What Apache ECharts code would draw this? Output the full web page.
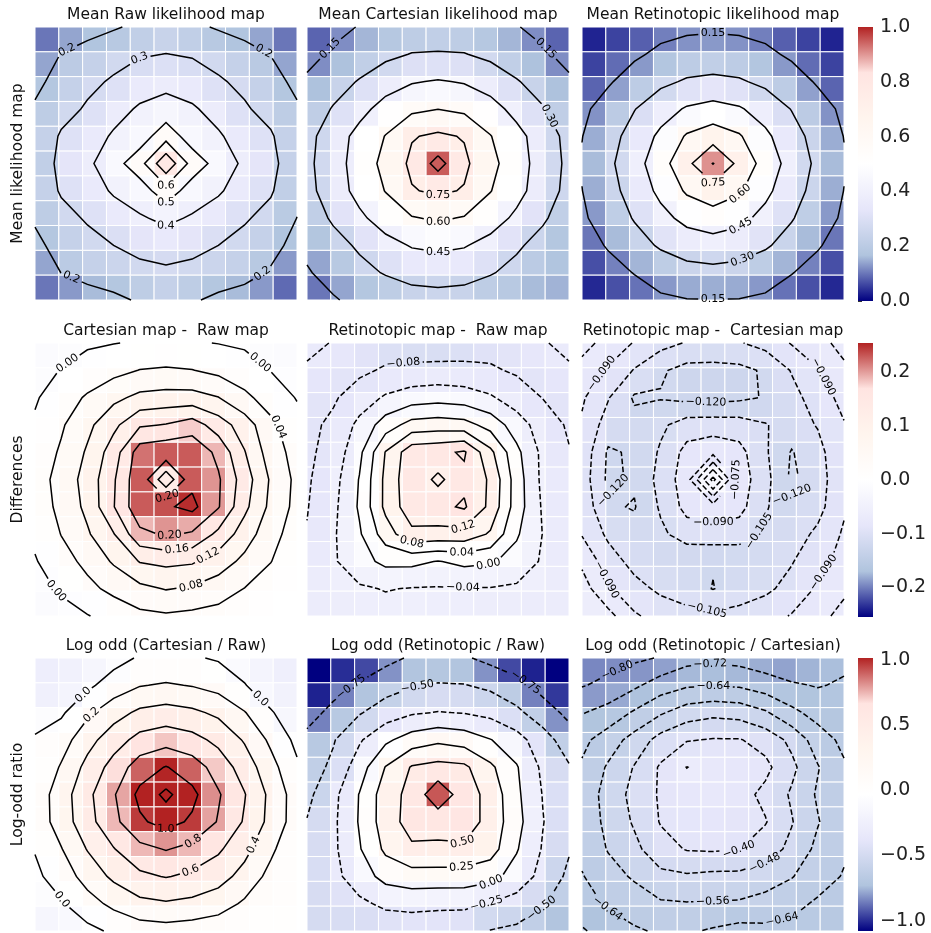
<!DOCTYPE html>
<html>
<head>
<meta charset="utf-8">
<title>Likelihood maps</title>
<script src="https://cdn.jsdelivr.net/npm/echarts@6/dist/echarts.min.js"></script>
<style>
html,body{margin:0;padding:0;background:#ffffff;}
#chart{width:931px;height:933px;}
</style>
</head>
<body>
<div id="chart"></div>
<script>
// ---------------- data (11 x 11 maps, row 0 = top) ----------------
const rawMean = [
 [0.10,0.14,0.17,0.19,0.22,0.24,0.22,0.19,0.17,0.14,0.10],
 [0.14,0.203,0.23,0.27,0.29,0.302,0.29,0.27,0.23,0.198,0.14],
 [0.18,0.23,0.28,0.31,0.36,0.37,0.36,0.31,0.28,0.23,0.18],
 [0.21,0.27,0.31,0.37,0.41,0.44,0.41,0.37,0.31,0.27,0.21],
 [0.23,0.31,0.36,0.41,0.45,0.56,0.45,0.41,0.36,0.31,0.23],
 [0.22,0.33,0.38,0.46,0.56,0.78,0.56,0.46,0.38,0.33,0.23],
 [0.23,0.31,0.36,0.41,0.45,0.56,0.45,0.41,0.36,0.31,0.22],
 [0.21,0.27,0.31,0.36,0.39,0.42,0.39,0.36,0.31,0.27,0.199],
 [0.18,0.23,0.27,0.30,0.33,0.35,0.33,0.30,0.27,0.23,0.17],
 [0.14,0.201,0.23,0.25,0.27,0.28,0.27,0.25,0.23,0.19,0.13],
 [0.10,0.13,0.16,0.18,0.21,0.23,0.21,0.18,0.16,0.13,0.09]
];
const cartesianMean = [
 [0.085,0.12,0.155,0.185,0.21,0.22,0.21,0.185,0.155,0.12,0.085],
 [0.12,0.165,0.22,0.27,0.305,0.31,0.305,0.27,0.22,0.165,0.12],
 [0.165,0.24,0.31,0.38,0.44,0.46,0.44,0.38,0.31,0.24,0.165],
 [0.215,0.31,0.40,0.51,0.57,0.598,0.57,0.51,0.40,0.31,0.215],
 [0.26,0.37,0.50,0.605,0.74,0.775,0.74,0.605,0.50,0.37,0.26],
 [0.27,0.38,0.52,0.64,0.78,0.95,0.78,0.64,0.52,0.38,0.27],
 [0.26,0.37,0.50,0.605,0.74,0.775,0.74,0.605,0.50,0.37,0.26],
 [0.22,0.32,0.42,0.52,0.59,0.62,0.59,0.52,0.42,0.32,0.22],
 [0.175,0.25,0.32,0.40,0.46,0.48,0.46,0.40,0.32,0.25,0.18],
 [0.14,0.19,0.26,0.31,0.35,0.36,0.35,0.31,0.26,0.20,0.17],
 [0.10,0.14,0.18,0.21,0.24,0.25,0.24,0.21,0.19,0.16,0.152]
];
const retinotopicMean = [
 [0.03,0.057,0.081,0.108,0.124,0.13,0.124,0.108,0.081,0.057,0.03],
 [0.057,0.092,0.13,0.177,0.208,0.219,0.208,0.177,0.13,0.092,0.057],
 [0.085,0.136,0.207,0.27,0.315,0.33,0.315,0.27,0.207,0.136,0.085],
 [0.124,0.203,0.295,0.386,0.465,0.50,0.465,0.386,0.295,0.203,0.124],
 [0.147,0.247,0.355,0.48,0.615,0.68,0.615,0.48,0.355,0.247,0.147],
 [0.16,0.27,0.39,0.54,0.71,0.905,0.71,0.54,0.39,0.27,0.16],
 [0.148,0.249,0.359,0.485,0.62,0.69,0.62,0.485,0.359,0.249,0.148],
 [0.13,0.214,0.31,0.407,0.49,0.53,0.49,0.407,0.31,0.214,0.13],
 [0.10,0.16,0.244,0.317,0.37,0.39,0.37,0.317,0.244,0.16,0.10],
 [0.067,0.11,0.154,0.21,0.247,0.26,0.247,0.21,0.154,0.11,0.067],
 [0.034,0.068,0.097,0.129,0.145,0.148,0.145,0.129,0.097,0.068,0.034]
];
const diffCartesianRaw = [
 [-0.015,-0.01,-0.005,-0.001,0.003,0.005,0.003,-0.001,-0.005,-0.01,-0.015],
 [-0.01,0.001,0.015,0.028,0.041,0.045,0.041,0.03,0.015,-0.001,-0.008],
 [-0.004,0.02,0.045,0.07,0.09,0.095,0.095,0.081,0.05,0.02,-0.002],
 [0.005,0.035,0.07,0.11,0.155,0.162,0.18,0.14,0.10,0.05,0.012],
 [0.015,0.045,0.085,0.14,0.22,0.23,0.23,0.19,0.122,0.06,0.025],
 [0.02,0.055,0.095,0.155,0.23,0.13,0.23,0.205,0.14,0.075,0.03],
 [0.018,0.05,0.09,0.158,0.23,0.235,0.25,0.203,0.13,0.07,0.028],
 [0.008,0.041,0.075,0.118,0.19,0.205,0.195,0.15,0.10,0.055,0.02],
 [-0.003,0.025,0.05,0.085,0.122,0.13,0.125,0.10,0.07,0.041,0.012],
 [-0.008,0.003,0.03,0.05,0.07,0.082,0.075,0.06,0.039,0.02,0.006],
 [-0.015,-0.008,-0.002,0.015,0.03,0.035,0.03,0.025,0.015,0.006,0.002]
];
const diffRetinotopicRaw = [
 [-0.07,-0.082,-0.092,-0.10,-0.105,-0.105,-0.10,-0.095,-0.09,-0.083,-0.07],
 [-0.085,-0.09,-0.088,-0.075,-0.07,-0.068,-0.07,-0.075,-0.085,-0.09,-0.085],
 [-0.09,-0.085,-0.06,-0.035,-0.02,-0.015,-0.02,-0.035,-0.06,-0.081,-0.09],
 [-0.09,-0.072,-0.03,0.02,0.055,0.06,0.055,0.025,-0.02,-0.06,-0.085],
 [-0.088,-0.065,-0.01,0.082,0.145,0.15,0.165,0.09,0.01,-0.05,-0.078],
 [-0.085,-0.055,0.002,0.09,0.15,0.11,0.15,0.115,0.02,-0.05,-0.072],
 [-0.082,-0.05,0.005,0.09,0.145,0.15,0.165,0.11,0.02,-0.045,-0.07],
 [-0.078,-0.045,-0.005,0.06,0.11,0.107,0.105,0.075,0.005,-0.041,-0.068],
 [-0.072,-0.045,-0.015,0.01,0.01,-0.002,0.01,0.005,-0.015,-0.045,-0.068],
 [-0.066,-0.055,-0.045,-0.038,-0.042,-0.043,-0.042,-0.042,-0.046,-0.055,-0.066],
 [-0.065,-0.062,-0.058,-0.055,-0.055,-0.058,-0.058,-0.06,-0.062,-0.065,-0.065]
];
const diffRetinotopicCartesian = [
 [-0.07,-0.08,-0.091,-0.10,-0.106,-0.108,-0.106,-0.10,-0.089,-0.08,-0.07],
 [-0.08,-0.092,-0.106,-0.118,-0.125,-0.125,-0.124,-0.118,-0.104,-0.091,-0.078],
 [-0.088,-0.104,-0.122,-0.121,-0.124,-0.125,-0.123,-0.119,-0.11,-0.098,-0.085],
 [-0.092,-0.112,-0.115,-0.108,-0.098,-0.097,-0.098,-0.104,-0.112,-0.104,-0.091],
 [-0.095,-0.122,-0.118,-0.103,-0.085,-0.08,-0.085,-0.103,-0.121,-0.11,-0.092],
 [-0.097,-0.123,-0.118,-0.10,-0.082,-0.025,-0.082,-0.10,-0.123,-0.112,-0.093],
 [-0.095,-0.118,-0.121,-0.103,-0.085,-0.082,-0.085,-0.103,-0.118,-0.11,-0.092],
 [-0.091,-0.108,-0.115,-0.108,-0.098,-0.096,-0.098,-0.108,-0.112,-0.102,-0.088],
 [-0.078,-0.098,-0.11,-0.115,-0.117,-0.119,-0.116,-0.113,-0.106,-0.095,-0.085],
 [-0.068,-0.088,-0.1,-0.108,-0.113,-0.1205,-0.113,-0.108,-0.1,-0.088,-0.078],
 [-0.062,-0.07,-0.088,-0.096,-0.1,-0.102,-0.1,-0.096,-0.089,-0.08,-0.07]
];
const logOddCartesianRaw = [
 [-0.27,-0.23,-0.16,-0.07,0.02,0.03,0.02,-0.02,-0.10,-0.18,-0.25],
 [-0.24,-0.18,-0.04,0.09,0.19,0.22,0.19,0.13,0.01,-0.13,-0.22],
 [-0.08,-0.03,0.16,0.32,0.44,0.48,0.44,0.36,0.21,0.02,-0.14],
 [0.02,0.11,0.33,0.51,0.665,0.72,0.665,0.55,0.38,0.16,-0.05],
 [0.01,0.22,0.46,0.675,0.90,1.01,0.90,0.715,0.51,0.27,0.03],
 [0.08,0.30,0.55,0.78,1.05,1.25,1.05,0.82,0.61,0.35,0.10],
 [0.08,0.29,0.53,0.745,0.97,1.07,0.97,0.785,0.58,0.34,0.10],
 [0.01,0.19,0.41,0.59,0.745,0.81,0.745,0.63,0.46,0.24,0.03],
 [-0.04,0.09,0.28,0.44,0.56,0.61,0.56,0.48,0.33,0.14,0.03],
 [-0.08,-0.02,0.12,0.25,0.35,0.38,0.35,0.29,0.17,0.06,0.02],
 [-0.16,-0.12,-0.05,0.03,0.10,0.12,0.10,0.07,0.02,0.01,0.005]
];
const logOddRetinotopicRaw = [
 [-1.08,-1.0,-0.95,-0.82,-0.72,-0.70,-0.72,-0.82,-0.95,-1.02,-1.08],
 [-1.02,-0.85,-0.72,-0.6,-0.52,-0.48,-0.49,-0.55,-0.65,-0.85,-0.98],
 [-0.85,-0.68,-0.52,-0.38,-0.28,-0.24,-0.26,-0.32,-0.45,-0.62,-0.82],
 [-0.68,-0.52,-0.28,-0.05,0.12,0.2,0.14,0.01,-0.15,-0.4,-0.62],
 [-0.62,-0.45,-0.12,0.26,0.52,0.58,0.55,0.3,0.02,-0.3,-0.48],
 [-0.56,-0.32,0.01,0.38,0.58,0.92,0.62,0.42,0.05,-0.26,-0.45],
 [-0.49,-0.3,0.02,0.38,0.6,0.6,0.62,0.42,0.08,-0.24,-0.45],
 [-0.48,-0.3,-0.02,0.3,0.46,0.45,0.46,0.36,0.02,-0.27,-0.48],
 [-0.47,-0.32,-0.12,0.08,0.15,0.15,0.14,0.08,-0.1,-0.33,-0.55],
 [-0.48,-0.42,-0.3,-0.2,-0.18,-0.2,-0.2,-0.26,-0.35,-0.48,-0.62],
 [-0.49,-0.47,-0.46,-0.42,-0.4,-0.4,-0.42,-0.51,-0.55,-0.62,-0.72]
];
const logOddRetinotopicCartesian = [
 [-0.84,-0.83,-0.815,-0.795,-0.75,-0.74,-0.75,-0.77,-0.79,-0.76,-0.74],
 [-0.805,-0.78,-0.735,-0.68,-0.65,-0.645,-0.65,-0.68,-0.71,-0.725,-0.71],
 [-0.725,-0.69,-0.63,-0.57,-0.52,-0.50,-0.51,-0.55,-0.62,-0.67,-0.70],
 [-0.66,-0.60,-0.53,-0.45,-0.405,-0.395,-0.395,-0.43,-0.50,-0.60,-0.66],
 [-0.63,-0.55,-0.475,-0.39,-0.318,-0.36,-0.37,-0.38,-0.46,-0.555,-0.63],
 [-0.61,-0.53,-0.455,-0.39,-0.37,-0.36,-0.37,-0.42,-0.49,-0.57,-0.63],
 [-0.61,-0.54,-0.47,-0.395,-0.385,-0.38,-0.39,-0.395,-0.475,-0.555,-0.62],
 [-0.62,-0.555,-0.50,-0.43,-0.395,-0.39,-0.398,-0.44,-0.50,-0.58,-0.63],
 [-0.645,-0.59,-0.55,-0.50,-0.49,-0.50,-0.50,-0.52,-0.555,-0.61,-0.645],
 [-0.67,-0.63,-0.60,-0.57,-0.565,-0.565,-0.57,-0.59,-0.62,-0.65,-0.66],
 [-0.73,-0.68,-0.65,-0.63,-0.63,-0.65,-0.67,-0.66,-0.66,-0.67,-0.68]
];

const panelTitles = [
 'Mean Raw likelihood map', 'Mean Cartesian likelihood map', 'Mean Retinotopic likelihood map',
 'Cartesian map -  Raw map', 'Retinotopic map -  Raw map', 'Retinotopic map -  Cartesian map',
 'Log odd (Cartesian / Raw)', 'Log odd (Retinotopic / Raw)', 'Log odd (Retinotopic / Cartesian)'
];
const rowLabels = ['Mean likelihood map', 'Differences', 'Log-odd ratio'];

const levelsRaw = [0.2,0.3,0.4,0.5,0.6,0.7];
const levelsCartesian = [0.15,0.30,0.45,0.60,0.75,0.90];
const levelsRetinotopic = [0.15,0.30,0.45,0.60,0.75,0.90];
const levelsDiffCartRaw = [0.00,0.04,0.08,0.12,0.16,0.20,0.24];
const levelsDiffRetRaw = [-0.08,-0.04,0.00,0.04,0.08,0.12,0.16];
const levelsDiffRetCart = [-0.120,-0.105,-0.090,-0.075,-0.060,-0.045,-0.030];
const levelsLogCartRaw = [0.0,0.2,0.4,0.6,0.8,1.0,1.2];
const levelsLogRetRaw = [-0.75,-0.50,-0.25,0.00,0.25,0.50,0.75];
const levelsLogRetCart = [-0.80,-0.72,-0.64,-0.56,-0.48,-0.40,-0.32];

const colorbarLimits = [[0, 1], [-0.255, 0.255], [-1.08, 1.015]];
const cmapColors = ['#000080','#b0c4de','#e6e6fa','#ffffff','#fff5ee','#ffe4e1','#b22222'];

// ---------------- layout / label hints ----------------
const layout = {cols:[35,307,582], rows:[27,343,658], w:262, h:273, cbLeft:858, cbWidth:15};
const FONT = '"DejaVu Sans", "Noto Sans", sans-serif';

const panels = [
 {Z: rawMean, levels: levelsRaw, dec: 1, angles: [[0.3,-104],[0.4,90],[0.5,90],[0.6,90]], skip: [0.7]},
 {Z: cartesianMean, levels: levelsCartesian, dec: 2, angles: [[0.30,-23],[0.45,90],[0.60,90],[0.75,90]], skip: [0.90]},
 {Z: retinotopicMean, levels: levelsRetinotopic, dec: 2, angles: [[0.30,73],[0.45,66],[0.60,48],[0.75,90]], skip: [0.90]},
 {Z: diffCartesianRaw, levels: levelsDiffCartRaw, dec: 2, angles: [[0.04,-25],[0.08,77],[0.12,61],[0.16,81],[0.20,86]], skip: [0.24]},
 {Z: diffRetinotopicRaw, levels: levelsDiffRetRaw, dec: 2, angles: [[-0.04,77],[0.00,59],[0.04,72],[0.08,113],[0.12,62]], skip: [0.16]},
 {Z: diffRetinotopicCartesian, levels: levelsDiffRetCart, dec: 3, angles: [[-0.075,0],[-0.090,90],[-0.105,48]], skip: [-0.060,-0.045,-0.030]},
 {Z: logOddCartesianRaw, levels: levelsLogCartRaw, dec: 1, angles: [[0.2,-133],[0.4,30],[0.6,72],[0.8,60],[1.0,90]], skip: [1.2]},
 {Z: logOddRetinotopicRaw, levels: levelsLogRetRaw, dec: 2, angles: [[-0.25,66],[0.00,59],[0.25,72],[0.50,63]], skip: [0.75]},
 {Z: logOddRetinotopicCartesian, levels: levelsLogRetCart, dec: 2, angles: [[-0.56,90],[-0.48,53],[-0.40,65]], skip: [-0.32]}
];

// ---------------- contouring (marching squares) ----------------
function contour(Z, L) {
  const nr = Z.length, nc = Z[0].length;
  const segs = [];
  const E = (t,i,j) => t + ',' + i + ',' + j;
  for (let j = 0; j < nr - 1; j++) {
    for (let i = 0; i < nc - 1; i++) {
      const a = Z[j][i], b = Z[j][i+1], c = Z[j+1][i+1], d = Z[j+1][i];
      const A = a >= L, B = b >= L, C = c >= L, D = d >= L;
      const top = A !== B ? E('h', i, j) : null;
      const right = B !== C ? E('v', i+1, j) : null;
      const bottom = C !== D ? E('h', i, j+1) : null;
      const left = D !== A ? E('v', i, j) : null;
      const list = [top, right, bottom, left].filter(x => x);
      if (list.length === 2) segs.push(list);
      else if (list.length === 4) {
        const ctr = (a + b + c + d) / 4 >= L;
        if (A !== ctr) { segs.push([top, left]); segs.push([right, bottom]); }
        else { segs.push([top, right]); segs.push([bottom, left]); }
      }
    }
  }
  const pt = key => {
    const parts = key.split(',');
    const t = parts[0], i = +parts[1], j = +parts[2];
    let gx, gy;
    if (t === 'h') { const v0 = Z[j][i], v1 = Z[j][i+1]; gx = i + (L - v0) / (v1 - v0); gy = j; }
    else { const v0 = Z[j][i], v1 = Z[j+1][i]; gx = i; gy = j + (L - v0) / (v1 - v0); }
    return [-0.5 + 1.1 * gx, -0.5 + 1.1 * gy];
  };
  const adj = new Map();
  segs.forEach((s, id) => s.forEach(k => { if (!adj.has(k)) adj.set(k, []); adj.get(k).push(id); }));
  const used = new Array(segs.length).fill(false);
  const polys = [];
  for (let id = 0; id < segs.length; id++) {
    if (used[id]) continue;
    used[id] = true;
    const chain = [segs[id][0], segs[id][1]];
    const extend = atEnd => {
      while (true) {
        const key = atEnd ? chain[chain.length-1] : chain[0];
        const nxt = (adj.get(key) || []).find(x => !used[x]);
        if (nxt === undefined) break;
        used[nxt] = true;
        const s = segs[nxt];
        const other = s[0] === key ? s[1] : s[0];
        if (atEnd) chain.push(other); else chain.unshift(other);
      }
    };
    extend(true); extend(false);
    const closed = chain.length > 2 && chain[0] === chain[chain.length-1];
    polys.push({pts: chain.map(pt), closed});
  }
  return polys;
}

function inPoly(x, y, pts) {
  let ins = false;
  for (let a = 0, b = pts.length - 1; a < pts.length; b = a++) {
    const xi = pts[a][0], yi = pts[a][1], xj = pts[b][0], yj = pts[b][1];
    if (((yi > y) !== (yj > y)) && (x < (xj - xi) * (y - yi) / (yj - yi) + xi)) ins = !ins;
  }
  return ins;
}
function textW(s, fs) {
  let w = 0;
  for (const ch of s) w += (ch === '.' ? 0.318 : (ch === '\u2212' ? 0.838 : 0.636)) * fs;
  return w;
}
function fmtLevel(L, dec) { return (L < -1e-9 ? '\u2212' : '') + Math.abs(L).toFixed(dec); }

function buildPanel(pn) {
  const sx = layout.w / 11, sy = layout.h / 11;
  const pieces = [], labels = [];
  for (const L of pn.levels) {
    const polys = contour(pn.Z, L);
    const dashed = L < -1e-9;
    const txt = fmtLevel(L, pn.dec);
    const skipIt = pn.skip.some(v => Math.abs(v - L) < 1e-9);
    for (const poly of polys) {
      const P = poly.pts.map(p => [p[0] * sx, p[1] * sy]);
      const n = P.length;
      const cum = [0];
      for (let k = 1; k < n; k++) cum.push(cum[k-1] + Math.hypot(P[k][0]-P[k-1][0], P[k][1]-P[k-1][1]));
      const len = cum[n-1];
      const closed = poly.closed;
      const at = s => {
        if (closed) s = ((s % len) + len) % len; else s = Math.max(0, Math.min(len, s));
        let lo = 0, hi = cum.length - 1;
        while (hi - lo > 1) { const mid = (lo + hi) >> 1; if (cum[mid] <= s) lo = mid; else hi = mid; }
        const seg = cum[hi] - cum[lo];
        const t = seg > 0 ? (s - cum[lo]) / seg : 0;
        return [P[lo][0] + (P[hi][0] - P[lo][0]) * t, P[lo][1] + (P[hi][1] - P[lo][1]) * t];
      };
      const half = textW(txt, 11) / 2 + 2.5;
      let s0 = null;
      if (!skipIt && len >= 60 && len > 2 * half + 8) {
        const encl = closed && inPoly(5, 5, poly.pts);
        if (encl) {
          const spec = pn.angles.find(q => Math.abs(q[0] - L) < 1e-9);
          const target = spec ? spec[1] : 90;
          const cx = 5 * sx, cy = 5 * sy;
          let best = 1e9;
          for (let s = 0; s < len; s += 1) {
            const q = at(s);
            const ang = Math.atan2(q[1] - cy, q[0] - cx) * 180 / Math.PI;
            const dd = Math.abs((((ang - target) % 360) + 540) % 360 - 180);
            if (dd < best) { best = dd; s0 = s; }
          }
        } else {
          s0 = len / 2;
        }
      }
      const toData = arr => arr.map(p => [p[0] / sx, p[1] / sy]);
      if (s0 === null) { pieces.push({pts: poly.pts, dashed}); continue; }
      const q = at(s0);
      const qa = at(s0 - 6), qb = at(s0 + 6);
      let phi = Math.atan2(qb[1] - qa[1], qb[0] - qa[0]);
      if (phi > Math.PI / 2) phi -= Math.PI;
      if (phi < -Math.PI / 2) phi += Math.PI;
      labels.push({x: q[0] / sx, y: q[1] / sy, rot: -phi, text: txt});
      const sub = (sA, sB) => {
        const out = [at(sA)];
        const laps = closed ? 2 : 1;
        for (let lap = 0; lap < laps; lap++) {
          for (let k = 0; k < n; k++) { const s = cum[k] + lap * len; if (s > sA && s < sB) out.push(P[k]); }
        }
        out.push(at(sB));
        return out;
      };
      if (closed) {
        pieces.push({pts: toData(sub(s0 + half, s0 - half + len)), dashed});
      } else {
        if (s0 - half > 0.5) pieces.push({pts: toData(sub(0, s0 - half)), dashed});
        if (len - (s0 + half) > 0.5) pieces.push({pts: toData(sub(s0 + half, len)), dashed});
      }
    }
  }
  return {pieces, labels};
}

// ---------------- chart option ----------------
const grids = [], xAxes = [], yAxes = [], series = [], graphics = [];
const rowCellSeries = [[], [], []];
const clampTo = (v, lim) => Math.max(lim[0], Math.min(lim[1], v));

panels.forEach((pn, k) => {
  const r = Math.floor(k / 3), c = k % 3;
  const lim = colorbarLimits[r];
  grids.push({left: layout.cols[c], top: layout.rows[r], width: layout.w, height: layout.h});
  xAxes.push({type: 'value', gridIndex: k, min: -0.5, max: 10.5, show: false});
  yAxes.push({type: 'value', gridIndex: k, min: -0.5, max: 10.5, inverse: true, show: false});
  const cells = [];
  pn.Z.forEach((row, j) => row.forEach((v, i) => cells.push([i, j, v, clampTo(v, lim)])));
  rowCellSeries[r].push(series.length);
  series.push({
    type: 'custom', xAxisIndex: k, yAxisIndex: k, data: cells, encode: {x: 0, y: 1}, z: 1, silent: true,
    renderItem: (params, api) => {
      const i = api.value(0), j = api.value(1);
      const p0 = api.coord([i - 0.5, j - 0.5]), p1 = api.coord([i + 0.5, j + 0.5]);
      return {type: 'rect', shape: {x: Math.min(p0[0], p1[0]), y: Math.min(p0[1], p1[1]),
        width: Math.abs(p1[0] - p0[0]), height: Math.abs(p1[1] - p0[1])},
        style: {fill: api.visual('color'), stroke: '#ffffff', lineWidth: 1}};
    }
  });
  const built = buildPanel(pn);
  const pieces = built.pieces, labels = built.labels;
  series.push({
    type: 'custom', xAxisIndex: k, yAxisIndex: k, data: pieces.map((p, idx) => [idx, 0]), z: 2, silent: true,
    renderItem: (params, api) => {
      const pc = pieces[params.dataIndex];
      return {type: 'polyline', shape: {points: pc.pts.map(q => api.coord(q))},
        style: {stroke: '#000000', lineWidth: 1.5, fill: 'none', lineDash: pc.dashed ? [5.5, 2.5] : null}};
    }
  });
  series.push({
    type: 'custom', xAxisIndex: k, yAxisIndex: k, data: labels.map(l => [l.x, l.y]), encode: {x: 0, y: 1}, z: 3, silent: true,
    renderItem: (params, api) => {
      const lb = labels[params.dataIndex];
      const p = api.coord([lb.x, lb.y]);
      return {type: 'text', x: p[0], y: p[1], rotation: lb.rot,
        style: {text: lb.text, fill: '#000000', font: '11px ' + FONT,
          align: 'center', verticalAlign: 'middle', textAlign: 'center', textVerticalAlign: 'middle'}};
    }
  });
  graphics.push({type: 'text', x: layout.cols[c] + layout.w / 2, y: layout.rows[r] - 12, z: 100,
    style: {text: panelTitles[k], fill: '#111111', font: '15.5px ' + FONT,
      align: 'center', verticalAlign: 'middle', textAlign: 'center', textVerticalAlign: 'middle'}});
});

// colorbars
const visualMaps = [];
colorbarLimits.forEach((lim, r) => {
  const gi = grids.length;
  grids.push({left: layout.cbLeft, top: layout.rows[r], width: layout.cbWidth, height: layout.h + (r < 2 ? 1 : 0)});
  xAxes.push({type: 'value', gridIndex: gi, min: 0, max: 1, show: false});
  const yax = {
    type: 'value', gridIndex: gi, min: lim[0], max: lim[1], position: 'right',
    axisLine: {show: false}, splitLine: {show: false},
    axisTick: {show: true, length: 4, lineStyle: {color: '#333333', width: 1}},
    axisLabel: {show: true, fontSize: 19, fontFamily: FONT, color: '#222222', margin: 7,
      showMinLabel: r === 0, showMaxLabel: r === 0,
      formatter: v => (v < 0 ? '\u2212' : '') + Math.abs(v).toFixed(1)}
  };
  if (r === 0) yax.interval = 0.2; else yax.splitNumber = 5;
  yAxes.push(yax);
  series.push({
    type: 'custom', xAxisIndex: gi, yAxisIndex: gi, data: [[0, lim[0]]], encode: {x: 0, y: 1}, silent: true,
    renderItem: (params, api) => {
      const p0 = api.coord([0, lim[0]]), p1 = api.coord([1, lim[1]]);
      return {type: 'rect', shape: {x: p0[0], y: p1[1], width: p1[0] - p0[0], height: p0[1] - p1[1]},
        style: {fill: new echarts.graphic.LinearGradient(0, 1, 0, 0,
          cmapColors.map((col, k) => ({offset: k / (cmapColors.length - 1), color: col})))}};
    }
  });
  visualMaps.push({type: 'continuous', show: false, min: lim[0], max: lim[1], dimension: 3,
    seriesIndex: rowCellSeries[r], inRange: {color: cmapColors}});
  graphics.push({type: 'text', x: 18, y: layout.rows[r] + layout.h / 2, rotation: Math.PI / 2, z: 100,
    style: {text: rowLabels[r], fill: '#111111', font: '15.5px ' + FONT,
      align: 'center', verticalAlign: 'middle', textAlign: 'center', textVerticalAlign: 'middle'}});
});

const chart = echarts.init(document.getElementById('chart'), null, {renderer: 'canvas'});
chart.setOption({
  animation: false,
  backgroundColor: '#ffffff',
  grid: grids,
  xAxis: xAxes,
  yAxis: yAxes,
  visualMap: visualMaps,
  series: series,
  graphic: {elements: graphics}
});
</script>
</body>
</html>
